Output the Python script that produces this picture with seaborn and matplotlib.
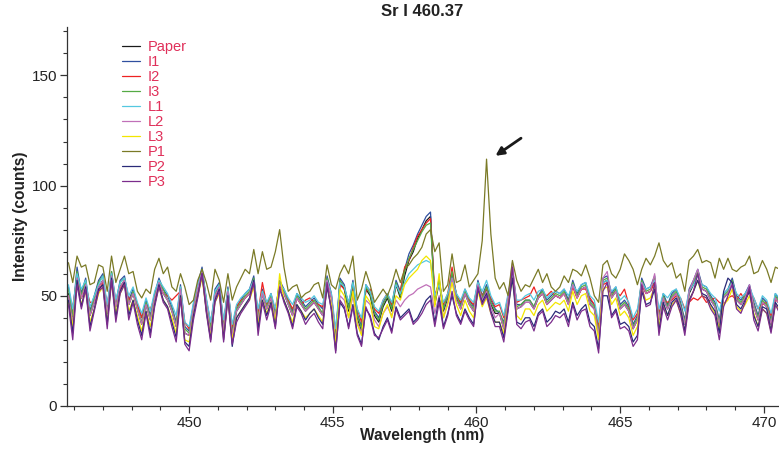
import numpy as np
import pandas as pd
import matplotlib
matplotlib.use("Agg")
import matplotlib.pyplot as plt
from matplotlib.ticker import MultipleLocator
import seaborn as sns

# Spectral window around the Sr I 460.37 nm line (sampled every 0.15 nm)
WL_START = 445.8
WL_STEP = 0.15
N_POINTS = 166

sample_names = ["Paper", "I1", "I2", "I3", "L1", "L2", "L3", "P1", "P2", "P3"]
sample_colors = ["#1a1a1a", "#2f4f9f", "#ee2222", "#55aa44", "#55c8e0",
                 "#c070b8", "#f2e600", "#7a7a26", "#2a2a78", "#7b2c8c"]

paper = [51,39,59,49,55,41,47,54,57,42, 59,45,54,57,46,51,44,37,46,39,
         49,56,51,48,43,36,53,33,32,44, 53,61,46,33,50,54,34,52,32,43,
         46,49,51,57,39,51,44,49,40,55, 51,46,41,49,46,43,45,47,44,41,
         57,49,29,56,53,43,55,40,34,53, 50,41,38,45,49,43,55,49,59,66,
         70,76,80,84,86,46,56,43,49,59, 49,44,51,46,43,55,48,53,46,42,
         42,35,48,61,44,45,47,47,44,49, 51,46,48,50,49,51,46,55,49,53,
         54,46,44,32,56,57,49,52,44,46, 43,35,39,56,51,52,57,39,49,44,
         49,51,45,37,51,55,60,53,52,48, 45,37,49,51,56,48,46,49,53,45,
         39,47,45,37,49,46]
i1 = [54,42,63,51,58,43,50,57,60,44, 61,47,57,59,48,53,46,40,48,41,
      51,58,53,50,45,38,55,36,34,46, 55,63,48,35,53,56,36,54,34,45,
      48,51,53,59,41,53,46,51,42,57, 53,48,43,51,48,45,47,49,46,44,
      59,51,31,58,55,45,57,42,36,55, 52,43,40,47,51,45,57,52,62,69,
      73,78,82,86,88,47,58,44,50,60, 51,46,53,48,45,57,50,55,48,44,
      42,38,48,63,46,46,48,48,45,50, 53,48,50,52,51,53,48,57,51,55,
      56,48,46,34,58,59,51,54,46,48, 45,37,41,58,53,54,59,41,51,46,
      51,53,47,39,53,57,62,55,54,50, 47,39,51,53,58,50,48,51,55,47,
      41,49,47,39,51,48]
i2 = [50,45,58,49,54,47,47,52,56,46, 58,47,53,56,48,51,46,40,46,44,
      49,55,51,50,48,50,52,38,35,44, 53,60,48,38,50,54,38,52,36,45,
      48,49,51,56,42,56,46,49,44,55, 51,48,44,49,46,48,49,47,46,45,
      56,50,33,55,53,47,54,44,38,52, 53,44,42,48,51,46,55,52,63,66,
      72,77,80,83,85,50,56,46,51,63, 50,47,52,48,46,55,50,53,49,45,
      46,40,50,60,47,48,49,50,54,49, 51,50,52,50,49,51,47,54,49,53,
      53,49,46,36,55,56,50,52,50,53, 46,39,42,55,51,52,56,42,48,47,
      48,50,49,44,47,49,48,50,47,48, 49,47,46,49,50,48,51,48,52,49,
      44,46,47,41,48,47]
i3 = [53,41,61,50,57,42,49,56,59,42, 61,45,56,58,46,52,44,38,47,40,
      50,57,53,48,44,37,54,35,33,45, 54,62,47,35,51,55,35,53,33,44,
      47,50,52,58,40,52,45,50,41,56, 52,47,42,50,47,44,46,48,45,42,
      58,50,30,57,54,44,56,41,35,54, 51,42,39,46,50,44,56,50,61,67,
      71,75,79,82,83,48,57,44,50,61, 50,45,52,47,44,56,49,54,47,43,
      43,37,49,62,45,46,48,48,45,50, 52,47,49,51,50,52,47,56,50,54,
      55,47,45,33,57,58,50,53,45,47, 44,36,40,57,52,53,58,40,50,45,
      50,52,46,38,52,56,61,54,53,49, 46,38,50,52,57,49,47,50,54,46,
      40,48,46,38,50,47]
l1 = [55,44,60,53,57,45,50,55,59,46, 60,48,56,58,50,54,47,42,49,43,
      52,57,54,51,46,41,54,38,36,47, 55,61,49,38,52,55,39,53,37,46,
      49,51,53,57,44,52,47,51,44,55, 53,49,46,51,49,47,48,50,47,46,
      57,51,35,56,54,47,56,44,40,55, 52,45,43,48,51,47,55,51,56,60,
      62,64,65,66,65,50,55,47,51,58, 51,48,53,49,47,56,52,57,50,46,
      47,41,51,60,48,48,50,51,48,52, 53,49,51,52,51,53,50,55,52,55,
      56,50,48,38,56,57,52,54,48,50, 47,40,44,56,53,54,57,44,51,49,
      52,53,49,43,52,55,59,55,54,51, 49,43,51,53,56,51,49,51,54,49,
      44,50,48,42,51,49]
l2 = [50,38,58,49,55,41,47,54,57,42, 59,45,54,57,46,51,44,37,46,39,
      49,56,51,48,43,36,53,33,32,44, 53,61,46,33,50,54,34,52,32,43,
      46,49,51,57,39,51,44,49,40,55, 51,46,41,49,46,43,45,47,44,41,
      57,49,29,50,48,40,50,38,33,48, 46,39,36,42,45,41,48,45,48,50,
      51,53,54,55,54,42,50,40,47,58, 48,44,51,46,43,55,48,52,45,40,
      42,35,49,65,44,45,47,47,44,49, 51,46,48,50,49,51,46,55,49,53,
      54,46,44,32,58,61,49,52,44,46, 43,35,39,56,51,52,60,39,49,44,
      49,51,45,37,52,57,62,53,52,48, 45,37,49,51,56,48,46,49,55,45,
      39,47,45,37,49,46]
l3 = [47,36,56,46,52,38,44,51,54,38, 56,42,51,55,43,48,41,34,43,36,
      46,54,48,45,40,33,50,30,29,41, 50,58,43,31,47,51,31,49,30,40,
      43,46,48,54,37,48,42,47,38,60, 48,43,38,46,43,40,42,44,41,38,
      54,46,28,53,50,40,52,37,32,50, 47,36,35,42,46,40,50,48,55,58,
      60,62,66,68,66,45,60,40,46,56, 46,41,48,43,40,52,45,49,42,38,
      38,33,45,58,41,39,44,44,41,46, 48,43,45,47,46,48,43,52,46,50,
      51,43,41,30,53,54,46,49,41,43, 40,32,36,53,48,49,54,36,46,41,
      46,48,42,34,48,52,57,50,49,45, 42,35,46,48,53,45,43,46,50,42,
      36,44,42,34,46,43]
p1 = [65,56,68,63,64,55,56,64,63,52, 68,56,62,68,60,61,52,49,53,51,
      62,67,60,63,54,52,60,54,46,48, 57,62,56,48,62,57,47,60,48,54,
      58,62,60,71,60,70,62,63,70,80, 63,52,54,55,49,51,52,55,56,49,
      64,55,53,60,64,60,68,48,53,61, 55,47,50,53,50,55,62,56,62,64,
      67,69,72,78,80,70,74,52,55,69, 56,57,64,54,57,60,75,112,78,58,
      53,56,50,66,57,52,55,54,58,62, 56,60,54,52,54,59,56,62,61,59,
      64,58,50,47,64,66,60,58,62,69, 66,62,55,62,67,64,68,74,66,63,
      65,58,60,52,66,68,71,65,66,65, 58,67,62,67,62,61,63,64,68,60,
      61,66,62,56,63,62]
p2 = [48,33,57,45,54,36,44,53,55,37, 58,40,52,56,41,48,39,32,43,33,
      46,55,48,45,38,31,50,29,27,41, 50,60,43,30,48,53,30,50,27,40,
      43,46,49,57,35,48,41,47,36,53, 48,43,36,46,43,39,42,44,40,37,
      54,44,25,47,44,36,46,33,28,44, 41,33,30,36,40,34,45,40,42,44,
      38,40,44,48,50,38,49,36,42,50, 42,38,44,40,37,53,47,51,43,38,
      38,31,44,58,38,37,40,40,36,42, 44,38,40,43,42,44,38,47,41,44,
      46,38,36,26,50,50,41,44,37,38, 36,29,32,52,46,47,53,34,47,41,
      47,49,44,34,48,52,57,51,50,46, 43,33,52,58,56,46,44,48,52,41,
      36,45,44,34,47,44]
p3 = [46,30,55,44,53,34,43,52,54,35, 57,38,51,55,39,47,37,30,42,31,
      45,54,47,44,36,29,49,28,25,39, 49,60,42,29,47,52,29,49,28,38,
      42,45,48,56,32,47,39,46,35,54, 47,42,35,45,42,37,40,42,38,35,
      56,43,24,48,45,35,45,32,27,45, 40,32,31,35,39,33,44,39,41,43,
      37,39,42,46,48,36,47,35,41,52, 41,37,43,39,36,54,46,50,42,36,
      36,29,43,63,37,35,38,39,34,41, 43,36,38,41,40,42,36,46,39,43,
      44,36,34,24,52,56,40,43,35,36, 34,27,30,55,45,46,56,32,45,39,
      45,48,42,32,47,52,60,50,49,44, 41,30,45,50,55,44,42,47,54,39,
      34,44,42,33,46,42]

series = [paper, i1, i2, i3, l1, l2, l3, p1, p2, p3]

x_ticks = [450, 455, 460, 465, 470]
y_ticks = [0, 50, 100, 150]

wavelength = np.round(WL_START + WL_STEP * np.arange(N_POINTS), 2)
frames = [pd.DataFrame({"Wavelength": wavelength, "Intensity": vals, "Sample": name})
          for name, vals in zip(sample_names, series)]
df = pd.concat(frames, ignore_index=True)

sns.set_theme(style="ticks")
plt.rcParams["font.family"] = ["Liberation Sans", "DejaVu Sans"]

fig = plt.figure(figsize=(7.79, 4.49), dpi=100)
ax = fig.add_axes([0.086, 0.096, 0.913, 0.844])

sns.lineplot(data=df, x="Wavelength", y="Intensity", hue="Sample",
             hue_order=sample_names, palette=sample_colors,
             estimator=None, linewidth=0.9, ax=ax, legend=False)

ax.set_xlim(445.75, 470.5)
ax.set_ylim(0, 172)
ax.set_xticks(x_ticks)
ax.set_yticks(y_ticks)
ax.xaxis.set_minor_locator(MultipleLocator(1))
ax.yaxis.set_minor_locator(MultipleLocator(10))
ax.tick_params(axis="both", which="major", length=5, width=0.9,
               color="#333333", labelsize=11, labelcolor="#222222", pad=2)
ax.tick_params(axis="both", which="minor", length=3, width=0.8, color="#333333")

for side in ("top", "right"):
    ax.spines[side].set_visible(False)
for side in ("left", "bottom"):
    ax.spines[side].set_color("#333333")
    ax.spines[side].set_linewidth(0.9)

label_font = ["Liberation Sans Narrow", "Liberation Sans", "DejaVu Sans"]
ax.set_xlabel("Wavelength (nm)", fontsize=11.2, fontweight="bold",
              family=label_font, color="#222222", labelpad=-1)
ax.set_ylabel("Intensity (counts)", fontsize=11.2, fontweight="bold",
              family=label_font, color="#222222", labelpad=3)
ax.set_title("Sr I 460.37", fontsize=12, fontweight="bold",
             color="#222222", pad=8)

# Arrow marking the Sr I emission peak in P1
ax.annotate("", xy=(460.66, 113.5), xytext=(461.55, 121.5),
            arrowprops=dict(arrowstyle="-|>", color="#1a1a1a", lw=2.0,
                            mutation_scale=12, shrinkA=0, shrinkB=0))

handles = ax.get_lines()[:len(sample_names)]
leg = ax.legend(handles, sample_names, loc="upper left",
                bbox_to_anchor=(0.077, 0.965), frameon=False,
                fontsize=10.5, handlelength=1.25, handletextpad=0.55,
                labelspacing=0.07, borderaxespad=0, borderpad=0)
for txt in leg.get_texts():
    txt.set_color("#e0305a")

fig.savefig("out.png", dpi=100)
